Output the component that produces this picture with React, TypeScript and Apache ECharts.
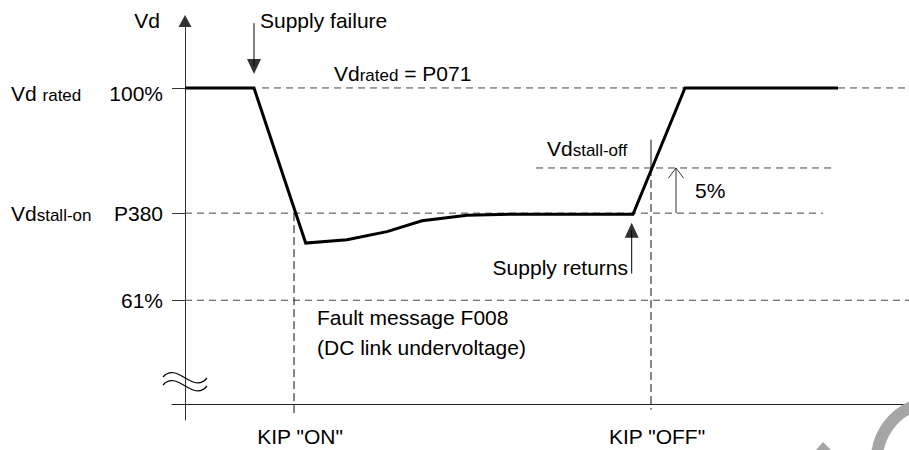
import React, { useEffect, useRef } from 'react';
import * as echarts from 'echarts';

// ---- data (time in arbitrary units, voltage in % of Vd rated) ----
const CURVE_T = [0, 6.9, 12.07, 16.2, 20.2, 23.7, 28.2, 32.8, 44.8, 50.0, 65.3];
const CURVE_VD = [100, 100, 71.5, 72.1, 73.6, 75.6, 76.6, 76.8, 76.8, 100, 100];

const LEVEL_RATED = 100;
const LEVEL_STALL_ON = 77;
const LEVEL_STALL_OFF = 85.3;
const LEVEL_FAULT = 61;

const Y_TICK_VALUES = [61, 77, 100];
const Y_TICK_LABELS = ['61%', 'P380', '100%'];
const Y_NAME_VALUES = [77, 100];
const Y_NAME_LABELS = ['stall-on', 'rated'];

const T_SUPPLY_FAIL = 6.9;
const T_KIP_ON = 10.9;
const T_SUPPLY_RETURN = 44.67;
const T_KIP_OFF = 46.6;
const T_HYST = 49.1;
const X_LABEL_VALUES = [T_KIP_ON, T_KIP_OFF];
const X_LABELS = ['KIP "ON"', 'KIP "OFF"'];

// dashed reference line extents
const RATED_SPAN = [7.7, 72.4];
const STALL_ON_SPAN = [0, 63.8];
const FAULT_SPAN = [0, 72.4];
const STALL_OFF_SPAN = [35.1, 64.7];
const KIP_ON_SPAN = [LEVEL_STALL_ON, 39.6];
const KIP_OFF_TOP = [90.5, LEVEL_STALL_OFF];
const KIP_OFF_SPAN = [LEVEL_STALL_OFF, 40.9];
const FAIL_ARROW = [111.9, 103.95];
const RETURN_ARROW = [65.9, 73.85];

const FONT = 'Liberation Sans, Arial, Helvetica, sans-serif';

const seg = (data: number[][], color: string, width: number, type: any = 'solid', z = 2) => ({
  type: 'line',
  data,
  symbol: 'none',
  silent: true,
  z,
  lineStyle: { color, width, type },
});

export default function App() {
  const ref = useRef<HTMLDivElement>(null);
  useEffect(() => {
    const chart = echarts.init(ref.current!, null, { renderer: 'svg' });
    const dashH: any = [7, 5];
    const dashV: any = [8, 4];
    const option: any = {
      animation: false,
      backgroundColor: '#fff',
      grid: { left: 172, right: 0, top: 21, bottom: 30, containLabel: false, outerBoundsMode: 'none' },
      xAxis: {
        type: 'value',
        min: -1.3,
        max: 72.4,
        offset: -16,
        axisLine: { show: true, onZero: false, lineStyle: { color: '#222', width: 1 } },
        axisTick: { show: false },
        splitLine: { show: false },
        axisLabel: {
          show: true,
          customValues: X_LABEL_VALUES,
          formatter: (v: number) => {
            const i = X_LABEL_VALUES.findIndex((x) => Math.abs(x - v) < 1e-6);
            return i >= 0 ? X_LABELS[i] : '';
          },
          margin: 22,
          color: '#000',
          fontSize: 21,
          fontFamily: FONT,
          padding: [0, 0, 0, 12],
        },
      },
      yAxis: [
        {
          type: 'value',
          min: 39,
          max: 112.3,
          position: 'left',
          name: 'Vd',
          nameLocation: 'end',
          nameGap: 1,
          nameTextStyle: {
            fontSize: 21,
            color: '#000',
            fontFamily: FONT,
            align: 'right',
            verticalAlign: 'middle',
            padding: [0, 25, 0, 0],
          },
          axisLine: {
            show: true,
            onZero: true,
            symbol: ['none', 'triangle'],
            symbolSize: [13, 12],
            lineStyle: { color: '#333', width: 1 },
          },
          axisTick: {
            show: true,
            inside: false,
            length: 13,
            customValues: Y_TICK_VALUES,
            lineStyle: { color: '#333', width: 1 },
          },
          splitLine: { show: false },
          axisLabel: {
            show: true,
            customValues: Y_TICK_VALUES,
            margin: 9,
            color: '#000',
            fontSize: 21,
            fontFamily: FONT,
            formatter: (v: number) => {
              const i = Y_TICK_VALUES.findIndex((x) => Math.abs(x - v) < 1e-6);
              if (i < 0) return '';
              return v === LEVEL_RATED ? `{low|${Y_TICK_LABELS[i]}}` : Y_TICK_LABELS[i];
            },
            rich: {
              low: { fontSize: 21, color: '#000', fontFamily: FONT, padding: [12, 0, 0, 0] },
            },
          },
        },
        {
          type: 'value',
          min: 39,
          max: 112.3,
          position: 'left',
          axisLine: { show: false, onZero: false },
          axisTick: { show: false },
          splitLine: { show: false },
          axisLabel: {
            show: true,
            customValues: Y_NAME_VALUES,
            margin: 161,
            align: 'left',
            color: '#000',
            fontSize: 21,
            fontFamily: FONT,
            formatter: (v: number) => {
              const i = Y_NAME_VALUES.findIndex((x) => Math.abs(x - v) < 1e-6);
              if (i < 0) return '';
              return v === LEVEL_RATED
                ? `{la|Vd }{lb|${Y_NAME_LABELS[i]}}`
                : `{a|Vd}{b|${Y_NAME_LABELS[i]}}`;
            },
            rich: {
              la: { fontSize: 21, color: '#000', fontFamily: FONT, padding: [12, 0, 0, 0], verticalAlign: 'bottom' },
              lb: { fontSize: 17, color: '#000', fontFamily: FONT, verticalAlign: 'bottom' },
              a: { fontSize: 21, color: '#000', fontFamily: FONT, verticalAlign: 'bottom' },
              b: { fontSize: 17, color: '#000', fontFamily: FONT, verticalAlign: 'bottom' },
            },
          },
        },
      ],
      series: [
        // reference levels
        seg([[RATED_SPAN[0], LEVEL_RATED], [RATED_SPAN[1], LEVEL_RATED]], '#444', 1, dashH),
        seg([[STALL_ON_SPAN[0], LEVEL_STALL_ON], [STALL_ON_SPAN[1], LEVEL_STALL_ON]], '#444', 1, dashH),
        seg([[FAULT_SPAN[0], LEVEL_FAULT], [FAULT_SPAN[1], LEVEL_FAULT]], '#444', 1, dashH),
        seg([[STALL_OFF_SPAN[0], LEVEL_STALL_OFF], [STALL_OFF_SPAN[1], LEVEL_STALL_OFF]], '#444', 1, dashH),
        // KIP markers
        seg([[T_KIP_ON, KIP_ON_SPAN[0]], [T_KIP_ON, KIP_ON_SPAN[1]]], '#111', 1, dashV),
        seg([[T_KIP_OFF, KIP_OFF_TOP[0]], [T_KIP_OFF, KIP_OFF_TOP[1]]], '#111', 1),
        seg([[T_KIP_OFF, KIP_OFF_SPAN[0]], [T_KIP_OFF, KIP_OFF_SPAN[1]]], '#111', 1, dashV),
        // 5% hysteresis arrow
        seg([[T_HYST, LEVEL_STALL_ON], [T_HYST, LEVEL_STALL_OFF]], '#333', 1),
        seg([[T_HYST - 0.75, LEVEL_STALL_OFF - 1.84], [T_HYST, LEVEL_STALL_OFF], [T_HYST + 0.75, LEVEL_STALL_OFF - 1.84]], '#333', 1),
        // supply failure / return arrows
        seg([[T_SUPPLY_FAIL, FAIL_ARROW[0]], [T_SUPPLY_FAIL, FAIL_ARROW[1]]], '#000', 1),
        seg([[T_SUPPLY_RETURN, RETURN_ARROW[0]], [T_SUPPLY_RETURN, RETURN_ARROW[1]]], '#000', 1),
        {
          type: 'scatter',
          silent: true,
          symbol: 'triangle',
          symbolSize: [14, 15],
          symbolRotate: 180,
          itemStyle: { color: '#000' },
          data: [[T_SUPPLY_FAIL, FAIL_ARROW[1]]],
          z: 4,
        },
        {
          type: 'scatter',
          silent: true,
          symbol: 'triangle',
          symbolSize: [14, 15],
          itemStyle: { color: '#000' },
          data: [[T_SUPPLY_RETURN, RETURN_ARROW[1]]],
          z: 4,
        },
        // DC link voltage curve
        {
          type: 'line',
          data: CURVE_T.map((t, i) => [t, CURVE_VD[i]]),
          symbol: 'none',
          silent: true,
          z: 5,
          lineStyle: { color: '#000', width: 3, join: 'miter' },
        },
      ],
      graphic: [
        {
          type: 'text', x: 260, y: 20, z: 10,
          style: { text: 'Supply failure', fontSize: 21, fontFamily: FONT, fill: '#000', align: 'left', verticalAlign: 'middle' },
        },
        {
          type: 'text', x: 334, y: 73, z: 10,
          style: {
            text: '{a|Vd}{b|rated}{a| = P071}', fontFamily: FONT, fill: '#000', align: 'left', verticalAlign: 'middle',
            rich: {
              a: { fontSize: 21, fontFamily: FONT, fill: '#000', verticalAlign: 'bottom' },
              b: { fontSize: 17, fontFamily: FONT, fill: '#000', verticalAlign: 'bottom' },
            },
          },
        },
        {
          type: 'text', x: 547, y: 148, z: 10,
          style: {
            text: '{a|Vd}{b|stall-off}', fontFamily: FONT, fill: '#000', align: 'left', verticalAlign: 'middle',
            rich: {
              a: { fontSize: 21, fontFamily: FONT, fill: '#000', verticalAlign: 'bottom' },
              b: { fontSize: 17, fontFamily: FONT, fill: '#000', verticalAlign: 'bottom' },
            },
          },
        },
        {
          type: 'text', x: 695, y: 190, z: 10,
          style: { text: '5%', fontSize: 21, fontFamily: FONT, fill: '#000', align: 'left', verticalAlign: 'middle' },
        },
        {
          type: 'text', x: 628, y: 267, z: 10,
          style: { text: 'Supply returns', fontSize: 21, fontFamily: FONT, fill: '#000', align: 'right', verticalAlign: 'middle' },
        },
        {
          type: 'text', x: 317, y: 317, z: 10,
          style: { text: 'Fault message F008', fontSize: 21, fontFamily: FONT, fill: '#000', align: 'left', verticalAlign: 'middle' },
        },
        {
          type: 'text', x: 317, y: 347, z: 10,
          style: { text: '(DC link undervoltage)', fontSize: 21, fontFamily: FONT, fill: '#000', align: 'left', verticalAlign: 'middle' },
        },
        // axis break mark
        {
          type: 'bezierCurve', z: 10,
          shape: { x1: 163, y1: 377, cpx1: 177, cpy1: 361, cpx2: 193, cpy2: 395, x2: 207, y2: 378 },
          style: { stroke: '#000', lineWidth: 1.2, fill: 'none' },
        },
        {
          type: 'bezierCurve', z: 10,
          shape: { x1: 163, y1: 385, cpx1: 177, cpy1: 369, cpx2: 193, cpy2: 403, x2: 207, y2: 386 },
          style: { stroke: '#000', lineWidth: 1.2, fill: 'none' },
        },
        // watermark fragment
        {
          type: 'arc', z: 1,
          shape: { cx: 935, cy: 460, r: 58, startAngle: (175 * Math.PI) / 180, endAngle: (255 * Math.PI) / 180, clockwise: true },
          style: { stroke: '#a6a6a6', lineWidth: 12, fill: 'none' },
        },
        {
          type: 'polygon', z: 1,
          shape: { points: [[815, 451], [823, 442], [832, 451]] },
          style: { fill: '#a6a6a6' },
        },
      ],
    };
    chart.setOption(option);
    return () => chart.dispose();
  }, []);
  return (
    <div
      ref={ref}
      style={{ position: 'fixed', left: 0, top: 0, width: 909, height: 450, background: '#fff' }}
    />
  );
}
